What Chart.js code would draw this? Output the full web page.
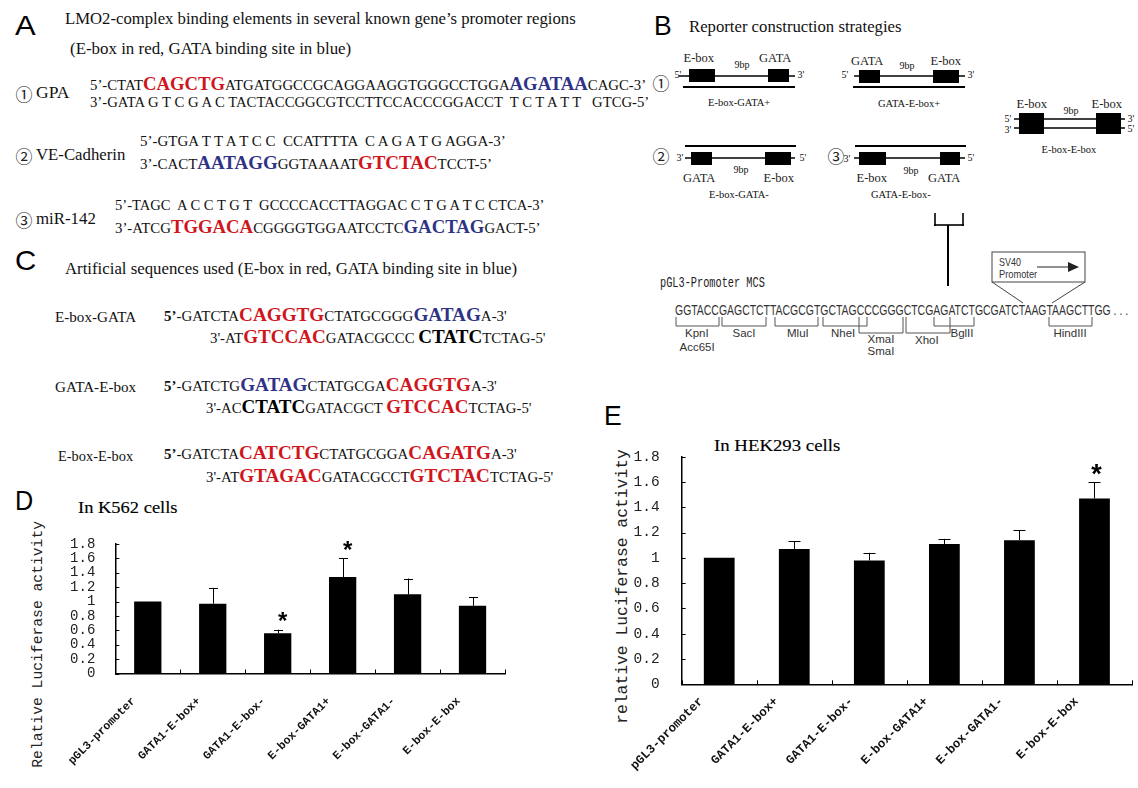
<!DOCTYPE html>
<html><head><meta charset="utf-8">
<script src="https://cdn.jsdelivr.net/npm/chart.js@4"></script>
<style>
html,body{margin:0;padding:0;background:#fff;width:1138px;height:788px;overflow:hidden}
#stage{position:relative;width:1138px;height:788px;overflow:hidden}
.t{position:absolute;white-space:pre;line-height:1;color:#111;font-family:"Liberation Serif",serif;transform-origin:0 50%}
.r{color:#d0161c;font-weight:bold}.b{color:#2f3386;font-weight:bold}.k{color:#000;font-weight:bold}
canvas{position:absolute}
svg{position:absolute;left:0;top:0}
</style></head><body><div id="stage"></div>
<script>
const categories = ["pGL3-promoter","GATA1-E-box+","GATA1-E-box-","E-box-GATA1+","E-box-GATA1-","E-box-E-box"];
const yTickLabels = ["0","0.2","0.4","0.6","0.8","1","1.2","1.4","1.6","1.8"];
const k562Values = [1.00,0.97,0.56,1.34,1.10,0.94];
const k562ErrorTops = [null,1.19,0.61,1.60,1.32,1.06];
const k562Stars = [false,false,true,true,false,false];
const hekValues = [1.00,1.07,0.98,1.11,1.14,1.47];
const hekErrorTops = [null,1.13,1.04,1.15,1.22,1.60];
const hekStars = [false,false,false,false,false,true];

const stage = document.getElementById('stage');
const SERIF='"Liberation Serif",serif', SANS='"Liberation Sans",sans-serif', MONO='"Liberation Mono",monospace', CJK='"Noto Sans CJK JP",sans-serif';

// text fitted between x1 and x2, vertically centred on y
function fit(x1,x2,y,size,html,opt){
  opt=opt||{};
  const d=document.createElement('div');d.className='t';d.innerHTML=html;
  d.style.fontSize=size+'px';d.style.fontFamily=opt.font||SERIF;
  if(opt.color)d.style.color=opt.color;
  if(opt.weight)d.style.fontWeight=opt.weight;
  stage.appendChild(d);
  const w=d.offsetWidth,h=d.offsetHeight;
  d.style.left=x1+'px';d.style.top=(y-h/2)+'px';
  d.style.transform='scaleX('+((x2-x1)/w)+')';
  return d;
}
// text centred at (x,y)
function mid(x,y,size,html,opt){
  opt=opt||{};
  const d=document.createElement('div');d.className='t';d.innerHTML=html;
  d.style.fontSize=size+'px';d.style.fontFamily=opt.font||SERIF;
  if(opt.color)d.style.color=opt.color;
  stage.appendChild(d);
  d.style.left=(x-d.offsetWidth/2)+'px';d.style.top=(y-d.offsetHeight/2)+'px';
  return d;
}
// rotated y-axis title centred at (x,y), spanning len pixels
function vert(x,y,len,size,text){
  const d=document.createElement('div');d.className='t';d.textContent=text;
  d.style.fontSize=size+'px';d.style.fontFamily=MONO;d.style.color='#222';
  stage.appendChild(d);
  const w=d.offsetWidth,h=d.offsetHeight;
  d.style.left=(x-w/2)+'px';d.style.top=(y-h/2)+'px';d.style.transformOrigin='50% 50%';
  d.style.transform='rotate(-90deg) scaleX('+(len/w)+')';
}
const circ=(x,y,s)=>mid(x,y,17,s,{font:CJK,color:'#222'});

/* ---------- panel letters ---------- */
[["A",15,26],["B",654,26],["C",15,261],["D",15,501],["E",604,416]].forEach(p=>{
  fit(p[1],p[1]+(p[0]=="C"?21:p[0]=="A"?21:18),p[2],28,p[0],{font:SANS,color:'#000'});
});

/* ---------- panel A ---------- */
fit(65,576,19,16,"LMO2-complex binding elements in several known gene’s promoter regions");
fit(70,351,49,16,"(E-box in red, GATA binding site in blue)");
circ(24,93,"①");fit(36,70,93,16,'GPA');
fit(90,646,83,15,"5’-CTAT<span class=r style='font-size:19px'>CAGCTG</span>ATGATGGCCGCAGGAAGGTGGGCCTGGA<span class=b style='font-size:19px'>AGATAA</span>CAGC-3’");
fit(90,649,102,15,"3’-GATA G T C G A C TACTACCGGCGTCCTTCCACCCGGACCT  T C T A T T   GTCG-5’");
circ(24,155,"②");fit(36,125,155,16,'VE-Cadherin');
fit(140,506,141,15,"5’-GTGA T T A T C C  CCATTTTA  C A G A T G AGGA-3’");
fit(140,492,162,15,"3’-CACT<span class=b style='font-size:19px'>AATAGG</span>GGTAAAAT<span class=r style='font-size:19px'>GTCTAC</span>TCCT-5’");
circ(24,219,"③");fit(36,96,219,16,'miR-142');
fit(115,544,205,15,"5’-TAGC  A C C T G T  GCCCCACCTTAGGAC C T G A T C CTCA-3’");
fit(115,541,226,15,"3’-ATCG<span class=r style='font-size:19px'>TGGACA</span>CGGGGTGGAATCCTC<span class=b style='font-size:19px'>GACTAG</span>GACT-5’");

/* ---------- panel C ---------- */
fit(65,517,269,16,"Artificial sequences used (E-box in red, GATA binding site in blue)");
fit(55,136,318,14,"E-box-GATA");
fit(164,507,315,14,"<b>5’</b>-GATCTA<span class=r style='font-size:18px'>CAGGTG</span>CTATGCGGG<span class=b style='font-size:18px'>GATAG</span>A-3'");
fit(210,546,337,14,"3'-AT<span class=r style='font-size:18px'>GTCCAC</span>GATACGCCC <span class=k style='font-size:18px'>CTATC</span>TCTAG-5'");
fit(55,136,388,14,"GATA-E-box");
fit(164,497,385,14,"<b>5’</b>-GATCTG<span class=b style='font-size:18px'>GATAG</span>CTATGCGA<span class=r style='font-size:18px'>CAGGTG</span>A-3'");
fit(206,532,407,14,"3'-AC<span class=k style='font-size:18px'>CTATC</span>GATACGCT <span class=r style='font-size:18px'>GTCCAC</span>TCTAG-5'");
fit(58,133,457,14,"E-box-E-box");
fit(164,517,453,14,"<b>5’</b>-GATCTA<span class=r style='font-size:18px'>CATCTG</span>CTATGCGGA<span class=r style='font-size:18px'>CAGATG</span>A-3'");
fit(206,553,476,14,"3'-AT<span class=r style='font-size:18px'>GTAGAC</span>GATACGCCT<span class=r style='font-size:18px'>GTCTAC</span>TCTAG-5'");

/* ---------- panel B ---------- */
fit(689,902,27,16,"Reporter construction strategies");
const NS='http://www.w3.org/2000/svg';
const svg=document.createElementNS(NS,'svg');svg.setAttribute('width',1138);svg.setAttribute('height',788);stage.appendChild(svg);
function L(x1,y1,x2,y2,w,c){const e=document.createElementNS(NS,'line');
  [['x1',x1],['y1',y1],['x2',x2],['y2',y2],['stroke',c||'#000'],['stroke-width',w||1]].forEach(a=>e.setAttribute(a[0],a[1]));svg.appendChild(e);}
function R(x,y,w,h,fill,stroke){const e=document.createElementNS(NS,'rect');
  [['x',x],['y',y],['width',w],['height',h],['fill',fill||'#000']].forEach(a=>e.setAttribute(a[0],a[1]));
  if(stroke){e.setAttribute('stroke',stroke);}svg.appendChild(e);}
const small=(x,y,s)=>mid(x,y,10.5,s,{color:'#111'});
const tiny=(x,y,s)=>mid(x,y,10,s,{color:'#111'});
const lab=(x,y,s)=>mid(x,y,12.5,s,{color:'#222'});

// diagram 1
L(679,76,795,76,1.6);R(689,69,26,13);R(768,69,21,13);L(683,87,795,87,2);
lab(699,58,"E-box");lab(775,58,"GATA");tiny(742,65,"9bp");tiny(678,75,"5'");tiny(801,75,"3'");small(739,103,"E-box-GATA+");
circ(661,82,"①");
// diagram 2
L(854,76,965,76,1.6);R(859,70,21,13);R(933,70,26,13);L(853,87,965,87,2);
lab(867,61,"GATA");lab(946,61,"E-box");tiny(907,66,"9bp");tiny(845,75,"5'");tiny(971,75,"3'");small(909,104,"GATA-E-box+");
// diagram 3
L(685,146,796,146,2);L(685,158,795,158,1.6);R(691,152,21,13);R(765,152,26,13);
lab(699,178,"GATA");lab(779,178,"E-box");tiny(741,170,"9bp");tiny(680,158,"3'");tiny(803,158,"5'");small(739,195,"E-box-GATA-");
circ(661,155,"②");
// diagram 4
L(855,146,966,146,2);L(854,158,965,158,1.6);R(859,152,27,13);R(940,152,20,13);
lab(872,178,"E-box");lab(944,178,"GATA");tiny(911,171,"9bp");tiny(847,159,"3'");tiny(971,158,"5'");small(901,195,"GATA-E-box-");
circ(836,155,"③");
// diagram 5
L(1014,119,1125,119,1.6);L(1014,128,1125,128,1.6);R(1019,113,25,21);R(1096,113,25,21);
lab(1032,104,"E-box");lab(1107,104,"E-box");tiny(1071,111,"9bp");
tiny(1008,119,"5'");tiny(1008,130,"3'");tiny(1131,119,"3'");tiny(1131,129,"5'");small(1069,150,"E-box-E-box");
// connector
L(935,213,935,226,1.6);L(963,213,963,226,1.6);L(934,225,964,225,1.6);L(948,225,948,286,2);
// MCS
fit(660,765,283,14,"pGL3-Promoter MCS",{font:MONO,color:'#222'});
fit(675,1128,310,14,"GGTACCGAGCTCTTACGCGTGCTAGCCCGGGCTCGAGATCTGCGATCTAAGTAAGCTTGG . . .",{font:SANS,color:'#333'});
const G='#555';
function br(x1,x2,y){L(x1,317,x1,y,1,G);L(x2,317,x2,y,1,G);L(x1,y,x2,y,1,G);}
br(676,719,326);br(722,766,326);br(775,818,326);br(823,867,326);br(859,903,333);br(906,950,333);br(934,974,326);br(1049,1092,326);
const en=(x,y,s)=>mid(x,y,11.5,s,{font:SANS,color:'#333'});
en(697,334,"KpnI");en(697,348,"Acc65I");en(744,334,"SacI");en(798,334,"MluI");en(843,334,"NheI");
en(881,340,"XmaI");en(881,352,"SmaI");en(927,341,"XhoI");en(962,334,"BglII");en(1070,334,"HindIII");
R(992,252,93,30,'#fff','#444');L(992,282,1023,303,1,'#444');L(1085,282,1052,303,1,'#444');
fit(999,1021,262,11,"SV40",{font:SANS,color:'#333'});fit(999,1037,274,11,"Promoter",{font:SANS,color:'#333'});
L(1037,267,1068,267,1,'#222');
const arrow=document.createElementNS(NS,'polygon');arrow.setAttribute('points','1068,262 1079,267 1068,272');arrow.setAttribute('fill','#222');svg.appendChild(arrow);

/* ---------- panels D / E titles ---------- */
fit(78,178,507,17,"In K562 cells",{color:'#000'}).style.webkitTextStroke='0.15px #000';
fit(714,840,445,17,"In HEK293 cells",{color:'#000'}).style.webkitTextStroke='0.15px #000';
vert(38,644,247,14.7,"Relative Luciferase activity");
vert(623,586,275,17,"relative Luciferase activity");

/* ---------- charts ---------- */
const decorations={id:'decorations',
  afterDatasetsDraw(chart){
    const o=chart.options.plugins.decorations,c=chart.ctx,x=chart.scales.x,y=chart.scales.y,bars=chart.getDatasetMeta(0).data;
    c.save();c.strokeStyle='#000';c.lineWidth=1;
    // inward tick marks
    y.ticks.forEach((t,i)=>{const p=Math.round(y.getPixelForTick(i))+.5;c.beginPath();c.moveTo(x.left,p);c.lineTo(x.left+4,p);c.stroke();});
    const step=x.getPixelForValue(1)-x.getPixelForValue(0);
    for(let i=0;i<=categories.length;i++){const p=Math.round(x.getPixelForValue(0)-step/2+i*step)+.5;c.beginPath();c.moveTo(p,y.bottom);c.lineTo(p,y.bottom-4);c.stroke();}
    // error bars and stars
    bars.forEach((b,i)=>{
      const top=o.errorTops[i];
      if(top!=null){const py=y.getPixelForValue(top),bx=Math.round(b.x)+.5;
        c.beginPath();c.moveTo(bx,b.y);c.lineTo(bx,py);c.moveTo(bx-o.cap,Math.round(py)+.5);c.lineTo(bx+o.cap,Math.round(py)+.5);c.stroke();
        if(o.stars[i]){c.fillStyle='#000';c.font='bold '+o.starSize+'px "Liberation Sans"';c.textAlign='center';c.textBaseline='middle';
          c.fillText('*',b.x+o.starDx,py-o.starUp);}
      }
    });
    c.restore();
  }};
function makeChart(left,top,w,h,plot,values,errorTops,stars,fonts){
  const cv=document.createElement('canvas');cv.width=w;cv.height=h;cv.style.left=left+'px';cv.style.top=top+'px';cv.style.width=w+'px';cv.style.height=h+'px';
  stage.appendChild(cv);
  return new Chart(cv,{type:'bar',plugins:[decorations],
    data:{labels:categories,datasets:[{data:values,backgroundColor:'#000',borderWidth:0,barPercentage:fonts.bar,categoryPercentage:1}]},
    options:{responsive:false,animation:false,devicePixelRatio:1,
      layout:{padding:{top:plot.top,right:w-plot.right,left:0,bottom:0}},
      plugins:{legend:{display:false},tooltip:{enabled:false},
        decorations:{errorTops,stars,cap:fonts.cap,starSize:fonts.star,starUp:fonts.starUp,starDx:fonts.starDx}},
      scales:{
        y:{min:0,max:1.8,afterFit(s){s.width=plot.left;},
          afterBuildTicks(s){s.ticks=yTickLabels.map(v=>({value:Number(v)}));},
          grid:{display:false},border:{color:'#000',width:1.5},
          ticks:{color:'#222',padding:fonts.yPad,autoSkip:false,font:{family:'"Liberation Mono"',size:fonts.y},callback:(v)=>String(Number(Number(v).toFixed(1)))}},
        x:{afterFit(s){s.height=h-plot.bottom;},
          grid:{display:false,offset:true},border:{color:'#000',width:1.5},
          ticks:{color:'#111',autoSkip:false,minRotation:45,maxRotation:45,padding:fonts.xPad,labelOffset:fonts.xOff,font:{family:'"Liberation Mono"',size:fonts.x,weight:'bold'}}}
      }}});
}
makeChart(0,490,520,298,{left:115.3,top:54,right:505,bottom:183.5},k562Values,k562ErrorTops,k562Stars,
  {bar:.42,cap:4.5,star:24,starUp:7,starDx:5,y:14,yPad:12,x:11.5,xPad:13,xOff:-14});
makeChart(600,400,538,388,{left:81.7,top:56.7,right:532,bottom:284.3},hekValues,hekErrorTops,hekStars,
  {bar:.41,cap:6,star:27,starUp:6,starDx:2,y:14.5,yPad:14,x:12.4,xPad:2,xOff:-18});
</script></body></html>
